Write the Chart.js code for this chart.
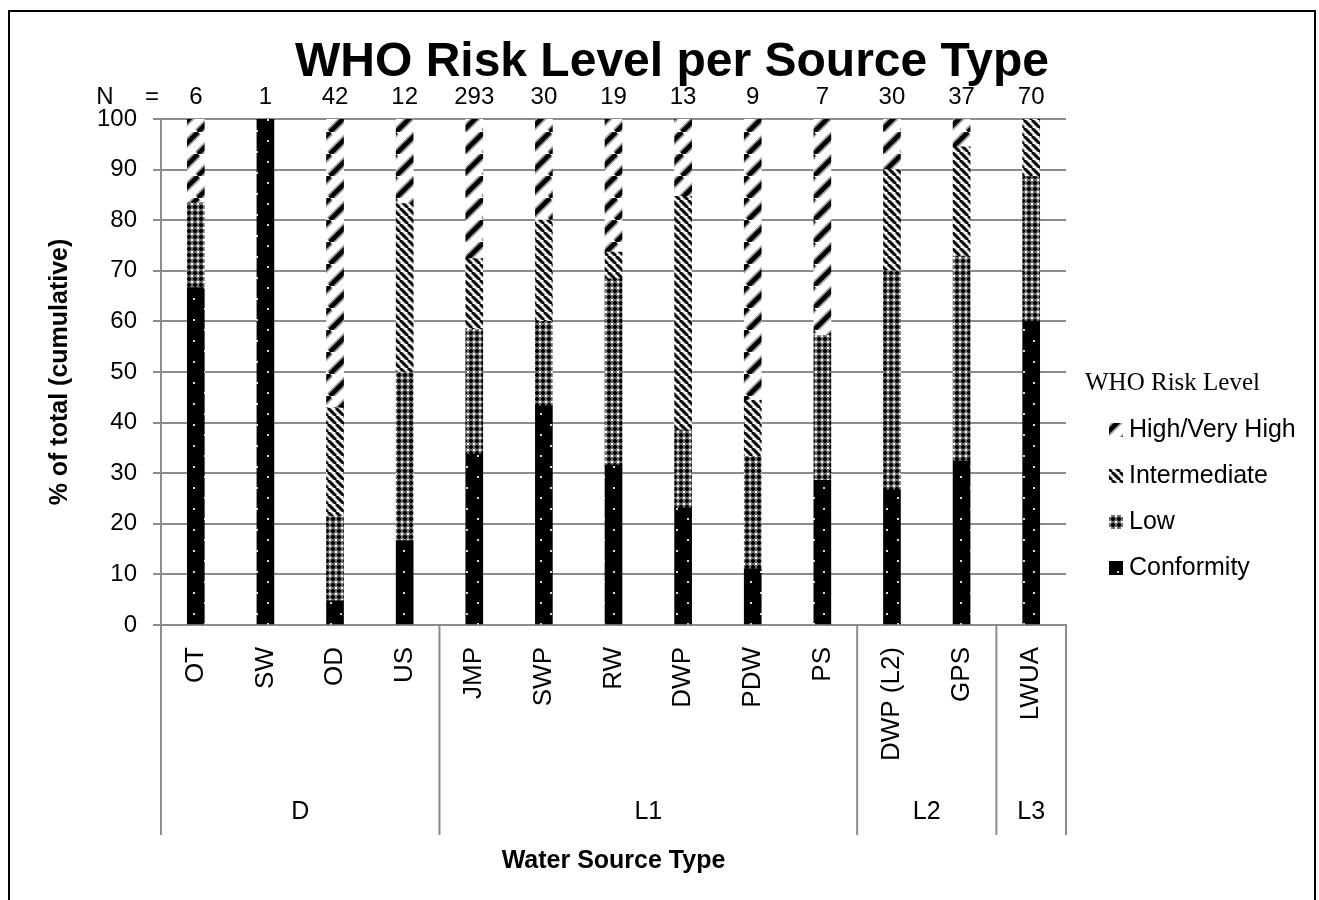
<!DOCTYPE html>
<html>
<head>
<meta charset="utf-8">
<title>WHO Risk Level per Source Type</title>
<script src="https://cdn.jsdelivr.net/npm/chart.js@4.4.0/dist/chart.umd.min.js"></script>
<style>
    html, body { margin: 0; padding: 0; background: #fff; }
    #chart { display: block; }
</style>
</head>
<body>
<canvas id="chart" width="1319" height="900"></canvas>
<script>
const sourceTypes = ['OT', 'SW', 'OD', 'US', 'JMP', 'SWP', 'RW', 'DWP', 'PDW', 'PS', 'DWP (L2)', 'GPS', 'LWUA'];
const sampleSizes = [6, 1, 42, 12, 293, 30, 19, 13, 9, 7, 30, 37, 70];
const groupNames = ['D', 'L1', 'L2', 'L3'];
const groupSizes = [4, 6, 2, 1];

// % of samples per risk level (stacked bottom to top)
const conformity   = [66.7, 100, 4.8, 16.7, 33.8, 43.3, 31.6, 23.1, 11.1, 28.6, 26.7, 32.4, 60.0];
const low          = [16.7, 0, 16.7, 33.3, 24.6, 16.7, 36.8, 15.4, 22.2, 28.6, 43.3, 40.5, 28.6];
const intermediate = [0, 0, 21.4, 33.3, 14.0, 20.0, 5.3, 46.2, 11.1, 0, 20.0, 21.6, 11.4];
const highVeryHigh = [16.7, 0, 57.1, 16.7, 27.6, 20.0, 26.3, 15.4, 55.6, 42.9, 10.0, 5.4, 0];

const FONT = '"Liberation Sans", Arial, sans-serif';
const GRID = '#8c8c8c';

const canvas = document.getElementById('chart');
const ctx = canvas.getContext('2d');

function makePattern(size, draw) {
    const c = document.createElement('canvas');
    c.width = size;
    c.height = size;
    draw(c.getContext('2d'), size);
    return ctx.createPattern(c, 'repeat');
}

function diagonal(g, s, rising, widths) {
    widths.forEach(([w, col]) => {
        g.strokeStyle = col;
        g.lineWidth = w;
        [-s, 0, s].forEach(off => {
            g.beginPath();
            if (rising) {
                g.moveTo(off, s);
                g.lineTo(off + s, 0);
            } else {
                g.moveTo(off, 0);
                g.lineTo(off + s, s);
            }
            g.stroke();
        });
    });
}

const highPattern = makePattern(22, (g, s) => {
    g.fillStyle = '#fff';
    g.fillRect(0, 0, s, s);
    diagonal(g, s, true, [[8, '#a0a0a0'], [4.5, '#000']]);
});

const midPattern = makePattern(8, (g, s) => {
    g.fillStyle = '#fff';
    g.fillRect(0, 0, s, s);
    diagonal(g, s, false, [[4, '#8a8a8a'], [2.4, '#000']]);
});

const lowPattern = makePattern(6, (g, s) => {
    g.fillStyle = '#6e6e6e';
    g.fillRect(0, 0, s, s);
    g.fillStyle = '#000';
    g.fillRect(2, 1, 2, 4);
    g.fillRect(1, 2, 4, 2);
    g.fillStyle = '#fff';
    g.fillRect(0, 0, 1, 1);
    g.fillRect(5, 0, 1, 1);
    g.fillRect(0, 5, 1, 1);
    g.fillRect(5, 5, 1, 1);
});

const dotPattern = makePattern(21, (g, s) => {
    g.fillStyle = '#000';
    g.fillRect(0, 0, s, s);
    g.fillStyle = '#d8d8d8';
    g.fillRect(4, 4, 2, 2);
    g.fillRect(15, 14, 2, 2);
});

const annotations = {
    id: 'annotations',
    afterDraw(chart) {
        const c = chart.ctx;
        const x = chart.scales.x;
        const area = chart.chartArea;
        c.save();

        // outer frame
        c.strokeStyle = '#000';
        c.lineWidth = 2;
        c.strokeRect(9, 11, 1306, 1000);

        // title
        c.fillStyle = '#000';
        c.textAlign = 'center';
        c.textBaseline = 'alphabetic';
        c.font = 'bold 48px ' + FONT;
        c.fillText('WHO Risk Level per Source Type', 672, 76);

        // sample sizes row
        c.font = '24px ' + FONT;
        c.fillText('N', 105, 104);
        c.fillText('=', 152, 104);
        sampleSizes.forEach((n, i) => {
            c.fillText(String(n), x.getPixelForValue(i), 104);
        });

        // group separators and labels under the axis
        c.strokeStyle = GRID;
        c.lineWidth = 2;
        let start = 0;
        const edges = [start];
        groupSizes.forEach(n => { start += n; edges.push(start); });
        const half = (x.getPixelForValue(1) - x.getPixelForValue(0)) / 2;
        const edgePx = edges.map(e => e < sourceTypes.length
            ? x.getPixelForValue(e) - half
            : x.getPixelForValue(e - 1) + half);
        edgePx.forEach(px => {
            c.beginPath();
            c.moveTo(px, area.bottom);
            c.lineTo(px, 835);
            c.stroke();
        });
        c.font = '25px ' + FONT;
        c.textBaseline = 'middle';
        groupNames.forEach((name, i) => {
            c.fillText(name, (edgePx[i] + edgePx[i + 1]) / 2, 812);
        });

        // axis titles
        c.font = 'bold 25px ' + FONT;
        c.fillText('Water Source Type', (area.left + area.right) / 2, 861);
        c.save();
        c.translate(60, (area.top + area.bottom) / 2);
        c.rotate(-Math.PI / 2);
        c.fillText('% of total (cumulative)', 0, 0);
        c.restore();

        // legend
        c.textAlign = 'left';
        c.font = '25px "Liberation Serif", "Times New Roman", serif';
        c.fillText('WHO Risk Level', 1085, 383);
        c.font = '25px ' + FONT;
        const rows = chart.data.datasets.slice().reverse();
        rows.forEach((ds, i) => {
            const cy = 430 + i * 46;
            c.fillStyle = ds.backgroundColor;
            c.fillRect(1109, cy - 7, 14, 14);
            c.fillStyle = '#000';
            c.fillText(ds.label, 1129, cy);
        });

        c.restore();
    }
};

new Chart(canvas, {
    type: 'bar',
    data: {
        labels: sourceTypes,
        datasets: [
            { label: 'Conformity', data: conformity, backgroundColor: dotPattern },
            { label: 'Low', data: low, backgroundColor: lowPattern },
            { label: 'Intermediate', data: intermediate, backgroundColor: midPattern },
            { label: 'High/Very High', data: highVeryHigh, backgroundColor: highPattern }
        ]
    },
    options: {
        responsive: false,
        animation: false,
        events: [],
        layout: { padding: { left: 0, top: 119, right: 253, bottom: 0 } },
        datasets: { bar: { barThickness: 17, borderWidth: 0 } },
        plugins: {
            legend: { display: false },
            tooltip: { enabled: false }
        },
        scales: {
            x: {
                stacked: true,
                grid: { display: false, drawTicks: false },
                border: { display: true, color: GRID, width: 2 },
                ticks: {
                    color: '#000',
                    font: { family: FONT, size: 26 },
                    maxRotation: 90,
                    minRotation: 90,
                    padding: 22,
                    autoSkip: false
                },
                afterFit(scale) { scale.height = 275; }
            },
            y: {
                stacked: true,
                min: 0,
                max: 100,
                grid: { color: GRID, lineWidth: 2, tickLength: 8 },
                border: { display: true, color: GRID, width: 2 },
                ticks: {
                    stepSize: 10,
                    color: '#000',
                    font: { family: FONT, size: 24 },
                    padding: 16
                },
                afterFit(scale) { scale.width = 161; }
            }
        }
    },
    plugins: [annotations]
});
</script>
</body>
</html>
